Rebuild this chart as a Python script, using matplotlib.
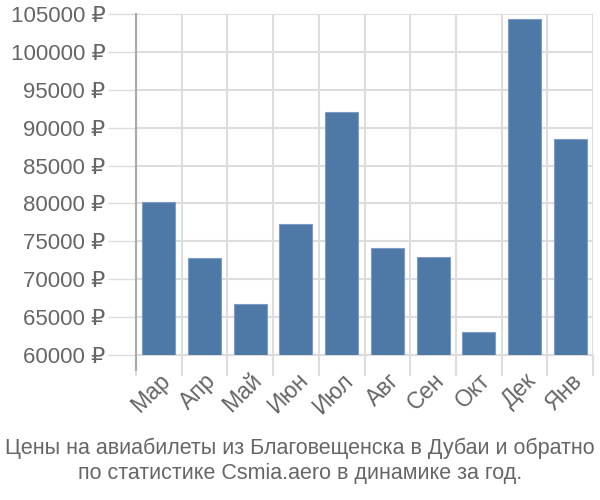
import matplotlib
matplotlib.use("Agg")
import matplotlib.pyplot as plt
import numpy as np

plt.rcParams['font.family'] = ['Liberation Sans', 'DejaVu Sans']

months = ["Мар", "Апр", "Май", "Июн", "Июл", "Авг", "Сен", "Окт", "Дек", "Янв"]
prices = [80200, 72750, 66700, 77300, 92100, 74100, 72900, 63100, 104300, 88500]
yticks = list(range(60000, 105001, 5000))
title_lines = ["Цены на авиабилеты из Благовещенска в Дубаи и обратно",
               "по статистике Csmia.aero в динамике за год."]

fig = plt.figure(figsize=(6, 5), dpi=100)
ax = fig.add_axes([136/600, 1-355/500, (593-136)/600, (355-14)/500])

x = np.arange(len(months))
ax.bar(x, prices, width=0.72, bottom=0, color="#4e79a7", edgecolor="#7f9cc4", linewidth=0.8, zorder=3)
ax.set_xlim(-0.5, len(months)-0.5)
ax.set_ylim(60000, 105000)

ax.set_yticks(yticks)
ax.set_yticklabels([f"{v} ₽" for v in yticks], fontsize=16, color="#666666")
ax.tick_params(axis='y', length=20, color="#dddddd", width=1, pad=2)

ax.set_xticks(x)
ax.set_xticklabels(months, rotation=45, ha='right', rotation_mode='anchor', fontsize=16.5, color="#666666")
ax.tick_params(axis='x', which='major', length=0, pad=10)
ax.set_xticks(np.arange(-0.5, len(months), 1), minor=True)
ax.tick_params(axis='x', which='minor', length=15, color="#dddddd", width=1.5)

ax.grid(True, which='major', axis='y', color="#dddddd", linewidth=1.5, zorder=0)
ax.grid(True, which='minor', axis='x', color="#dddddd", linewidth=1.5, zorder=0)

for s in ['top', 'right']:
    ax.spines[s].set_visible(False)
ax.spines['bottom'].set_color("#dddddd")
ax.spines['bottom'].set_linewidth(1.5)
ax.spines['left'].set_visible(False)
ax.plot([0, 0], [-15/341, 1], transform=ax.transAxes, color="#aaaaaa", linewidth=1.5, clip_on=False, zorder=4)

fig.text(0.5, 1-448/500, title_lines[0], ha='center', va='center', fontsize=15.5, color="#666666")
fig.text(0.5, 1-473/500, title_lines[1], ha='center', va='center', fontsize=15.5, color="#666666")

fig.savefig("out.png", dpi=100)
